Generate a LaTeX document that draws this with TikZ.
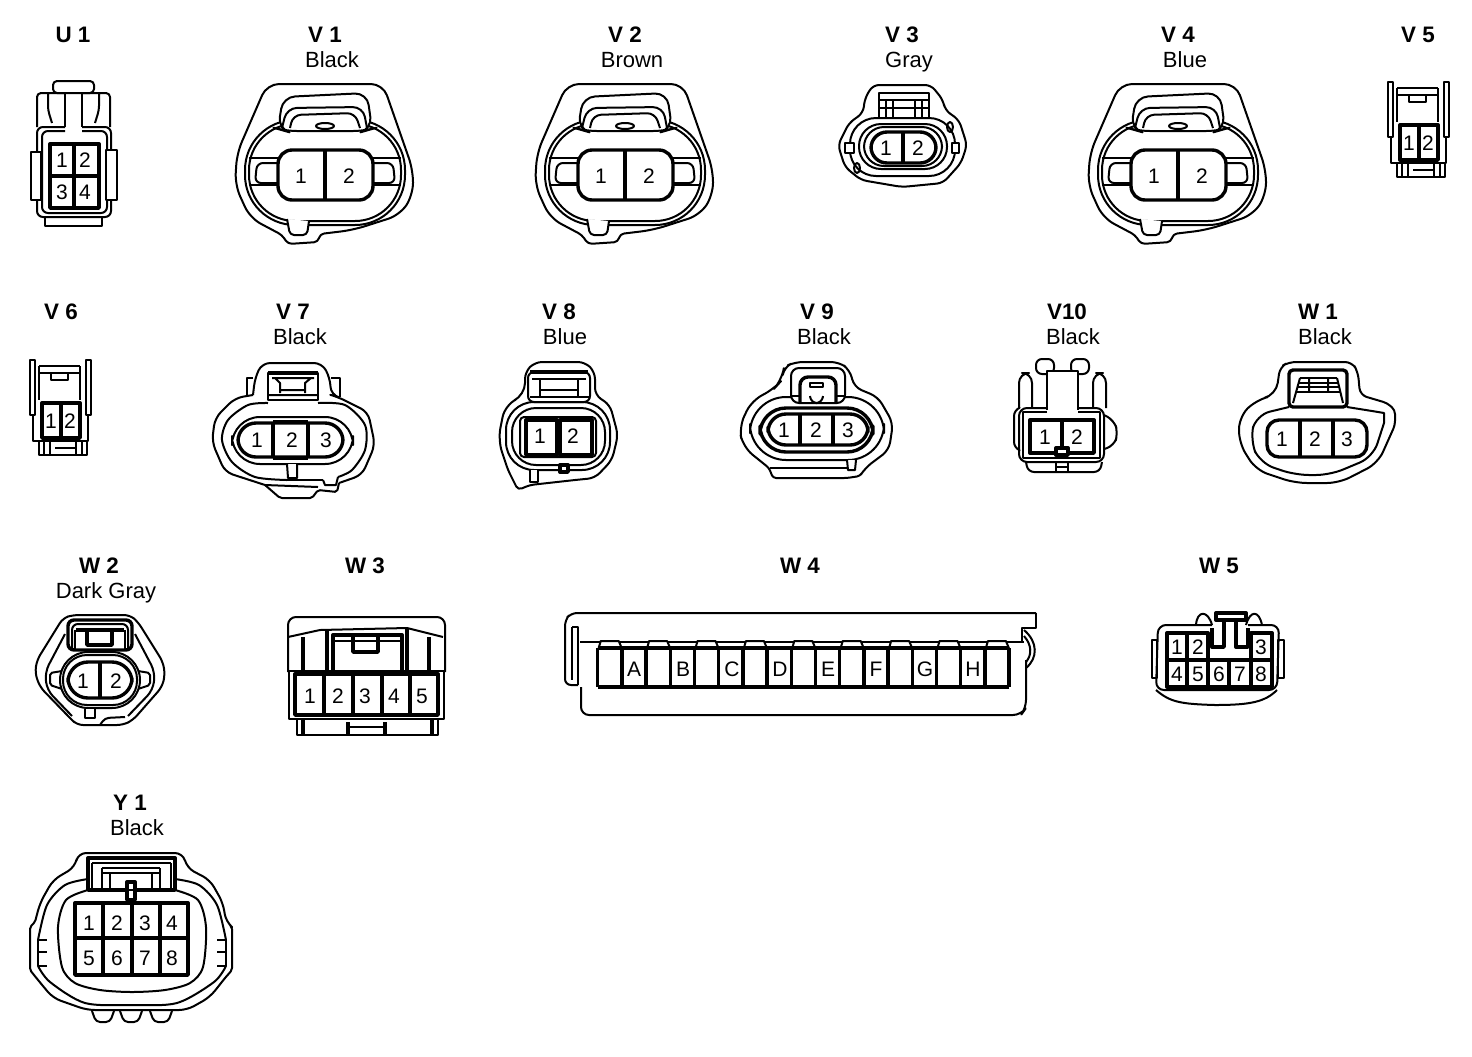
\documentclass[tikz,border=0pt]{standalone}
\usepackage{fontspec}
\setmainfont{Liberation Sans}
\usetikzlibrary{positioning}

\tikzset{
    wire/.style={draw=black, line width=1pt, line join=round},
    heavy/.style={draw=black, line width=1.7pt, line join=round},
    masked/.style={fill=white},
    title/.style={font=\bfseries\fontsize{11.2}{13}\selectfont, inner sep=0pt},
    shade/.style={font=\fontsize{11}{12}\selectfont, inner sep=0pt, anchor=base, yshift=-4pt},
    pinno/.style={font=\fontsize{10.5}{12}\selectfont, inner sep=0pt},
    % Large oval plug, used three times
    bigplug/.pic={
        \draw[wire, rounded corners=6pt] (-58,-91) -- (58,-91) -- (88,-5) -- (88,20) -- (75,40) -- (28,55) [rounded corners=2pt] -- (-5,59) -- (-7,67) -- (-37,69) -- (-43,60) [rounded corners=6pt] -- (-75,43) -- (-90,10) -- (-88,-22) -- cycle;
        \draw[wire, rounded corners=25pt] (-80,-55) rectangle (80,50);
        \draw[wire, rounded corners=23pt] (-76,-51) rectangle (76,46);
        \draw[wire, masked, rounded corners=2pt] (-38,44) -- (-35,60) -- (-18,60) -- (-16,46);
        \draw[wire, masked, rounded corners=6pt] (-47,-46) -- (-42,-78) -- (42,-82) -- (47,-46) -- (40,-44) -- (-40,-44) -- cycle;
        \draw[wire, rounded corners=5pt] (-43,-47) -- (-38,-67) -- (38,-68) -- (42,-47);
        \draw[wire, rounded corners=4pt] (-35,-47) -- (-32,-60) -- (30,-62) -- (35,-47);
        \draw[wire] (0,-49) ellipse [x radius=9, y radius=3];
        \draw[wire] (-76,-17) -- (76,-17) (-76,10) -- (76,10);
        \draw[wire, rounded corners=3pt] (-47,-12) -- (-68,-12) -- (-70,8) -- (-47,8) (48,-12) -- (68,-12) -- (70,8) -- (48,8);
        \draw[heavy, masked, rounded corners=7pt] (-47,-25) rectangle (48,25);
        \draw[heavy] (0,-25) -- (0,25);
        \node[pinno] (p1) at (-24,1) {1};
        \node[pinno] (p2) at (24,1) {2};
    },
    % Narrow two-way plug, used twice
    slimplug/.pic={
        \draw[wire] (0,0) rectangle (5,55);
        \draw[wire] (56,0) rectangle (61,55);
        \draw[wire] (9,6) -- (50,6) (9,13) -- (50,13);
        \draw[wire] (9,6) -- (9,40) (50,6) -- (50,40);
        \draw[wire] (21,13) -- (21,20) -- (38,20) -- (38,13);
        \draw[wire] (3,55) -- (3,81) -- (58,81) -- (58,55);
        \draw[heavy, masked] (12,43) rectangle (50,78);
        \draw[heavy] (31,43) -- (31,78);
        \draw[wire] (9,81) rectangle (57,95);
        \draw[wire] (14,81) -- (14,95) (20,81) -- (20,95) (25,88) -- (46,88) (46,81) -- (46,95) (52,81) -- (52,95);
        \node[pinno] (p1) at (21,61) {1};
        \node[pinno] (p2) at (40,61) {2};
    }
}

\begin{document}
\begin{tikzpicture}[x=0.5pt, y=-0.5pt]
    \useasboundingbox (0,0) rectangle (1472,1056);

    % --- Row 1 ---
    \node[title] (u1) at (73,35) {U 1};
    \draw[wire, rounded corners=2pt] (53,81) rectangle (94,93);
    \draw[wire] (65,93) -- (65,127) (82,93) -- (82,127);
    \draw[wire, rounded corners=2pt] (37,127) -- (37,93) -- (65,93) (48,93) -- (48,110) -- (52,123) (82,93) -- (110,93) -- (110,127) (99,93) -- (99,110) -- (95,123);
    \draw[wire, rounded corners=3pt] (65,127) -- (37,127) -- (37,217) -- (111,217) -- (111,127) -- (82,127);
    \draw[wire, rounded corners=3pt] (65,131) -- (42,131) -- (42,213) -- (107,213) -- (107,131) -- (82,131);
    \draw[heavy] (50,144) rectangle (99,208) (74,144) -- (74,208) (50,176) -- (99,176);
    \draw[wire, masked] (31,152) rectangle (41,200);
    \draw[wire, masked] (106,150) rectangle (117,200);
    \draw[wire] (45,217) rectangle (102,226);
    \foreach \n/\x/\y in {1/62/160, 2/85/160, 3/62/192, 4/85/192}
        \node[pinno] (u1p\n) at (\x,\y) {\n};

    \node[title] (v1) at (325,35) {V 1};
    \node[shade] (v1c) at (332,59) {Black};
    \pic (v1) at (325,175) {bigplug};

    \node[title] (v2) at (625,35) {V 2};
    \node[shade] (v2c) at (632,59) {Brown};
    \pic (v2) at (625,175) {bigplug};

    \node[title] (v3) at (902,35) {V 3};
    \node[shade] (v3c) at (909,59) {Gray};
    \draw[wire, rounded corners=3pt] (865,98) -- (873,85) -- (931,85) -- (943,100) -- (945,110) -- (959,120) -- (967,145) -- (961,163) -- (943,183) -- (902,187) -- (861,180) -- (845,167) -- (838,145) -- (849,123) -- (863,113) -- cycle;
    \draw[wire, masked] (879,93) rectangle (929,118);
    \draw[wire] (879,100) -- (929,100) (879,108) -- (929,108);
    \foreach \x in {886,893,915,922}
        \draw[wire] (\x,100) -- (\x,118);
    \draw[wire, masked, rounded corners=13pt] (850,118) rectangle (955,176);
    \draw[wire, rounded corners=11pt] (859,124) rectangle (947,169);
    \draw[wire, rounded corners=10pt] (864,127) rectangle (942,166);
    \draw[heavy, masked, rounded corners=8pt] (871,132) rectangle (936,163);
    \draw[heavy] (903,132) -- (903,163);
    \draw[wire, masked] (845,143) rectangle (854,153) (952,143) rectangle (959,153);
    \draw[wire] (950,127) ellipse [x radius=3, y radius=5] (857,168) ellipse [x radius=3, y radius=5];
    \node[pinno] (v3p1) at (886,148) {1};
    \node[pinno] (v3p2) at (918,148) {2};

    \node[title] (v4) at (1178,35) {V 4};
    \node[shade] (v4c) at (1185,59) {Blue};
    \pic (v4) at (1178,175) {bigplug};

    \node[title] (v5) at (1418,35) {V 5};
    \pic (v5) at (1388,82) {slimplug};

    % --- Row 2 ---
    \node[title] (v6) at (61,312) {V 6};
    \pic (v6) at (30,360) {slimplug};

    \node[title] (v7) at (293,312) {V 7};
    \node[shade] (v7c) at (300,336) {Black};
    \draw[wire, rounded corners=4pt] (253,395) -- (255,378) -- (262,363) -- (322,363) -- (330,378) -- (331,395) -- (338,397) -- (368,412) -- (375,445) -- (362,475) -- (339,483);
    \draw[wire, rounded corners=1pt] (339,483) -- (337,492) -- (318,490) -- (312,498) -- (280,498) -- (265,485);
    \draw[wire, rounded corners=4pt] (265,485) -- (225,472) -- (212,442) -- (215,418) -- (235,398) -- (253,395);
    \draw[wire] (265,485) -- (318,487);
    \draw[wire] (253,378) -- (247,378) -- (247,397) (331,378) -- (340,378) -- (340,397);
    \draw[wire] plot[smooth] coordinates {(268,403) (248,405) (228,420) (222,440) (232,462) (255,477) (287,480)};
    \draw[wire] (287,480) -- (323,480);
    \draw[wire] plot[smooth] coordinates {(338,477) (352,470) (365,450) (365,425) (345,405) (318,403)};
    \draw[wire, masked] (268,373) rectangle (318,400);
    \draw[heavy] (268,373) -- (318,373);
    \draw[wire] (272,378) -- (314,378) (275,378) -- (280,383) -- (280,393) (311,378) -- (305,383) -- (305,393) (280,390) -- (305,390) (268,395) -- (318,395);
    \draw[wire, rounded corners=14pt] (232,417) rectangle (353,464);
    \draw[heavy, masked, rounded corners=9pt] (238,423) rectangle (343,457);
    \draw[heavy] (273,422) -- (308,422) (273,458) -- (308,458) (273,422) -- (273,458) (308,422) -- (308,458);
    \draw[wire, masked] (287,464) -- (288,478) -- (297,478) -- (297,464);
    \draw[wire] (323,480) -- (325,485) -- (336,485) -- (338,477);
    \foreach \n/\x in {1/257, 2/292, 3/326}
        \node[pinno] (v7p\n) at (\x,440) {\n};

    \node[title] (v8) at (559,312) {V 8};
    \node[shade] (v8c) at (565,336) {Blue};
    \draw[wire, rounded corners=3.5pt] (525,395) -- (525,372) -- (535,362) -- (585,362) -- (595,372) -- (595,395) -- (610,405) -- (618,435) -- (612,460) -- (595,478) [rounded corners=2pt] -- (575,480) -- (530,485) -- (518,490) -- (508,470) [rounded corners=6pt] -- (498,440) -- (505,405) -- cycle;
    \draw[wire, masked, rounded corners=14pt] (506,402) rectangle (610,470);
    \draw[wire, masked, rounded corners=3pt] (528,372) rectangle (590,402);
    \draw[heavy] (530,372) -- (588,372);
    \draw[wire] (532,379) -- (586,379) (540,379) -- (540,397) (578,379) -- (578,397) (540,390) -- (578,390) (530,397) -- (590,397);
    \draw[wire, rounded corners=12pt] (512,408) rectangle (605,465);
    \draw[wire, rounded corners=2pt] (520,417) rectangle (596,457);
    \draw[heavy, masked] (526,420) rectangle (557,455);
    \draw[heavy, masked] (560,420) rectangle (592,455);
    \draw[wire, masked] (530,470) -- (530,482) -- (538,482) -- (538,470);
    \draw[heavy, masked] (560,465) rectangle (568,472);
    \node[pinno] (v8p1) at (540,436) {1};
    \node[pinno] (v8p2) at (573,436) {2};

    \node[title] (v9) at (817,312) {V 9};
    \node[shade] (v9c) at (824,336) {Black};
    \draw[wire, rounded corners=4pt] (782,380) -- (784,367) -- (795,362) -- (839,362) -- (850,370) -- (854,387) -- (878,397) -- (893,423) -- (889,450) -- (865,468) [rounded corners=1.5pt] -- (860,476) -- (847,478) -- (773,478) -- (769,468) [rounded corners=6pt] -- (743,447) -- (739,427) -- (752,400) -- (773,390) -- cycle;
    \draw[wire, masked, rounded corners=18pt] (750,397) rectangle (884,460);
    \draw[wire] (770,468) -- (847,468);
    \draw[wire, masked, rounded corners=4pt] (791,403) -- (791,368) -- (845,368) -- (845,403) -- cycle;
    \draw[heavy, rounded corners=4pt] (800,403) -- (800,377) -- (836,377) -- (836,403);
    \draw[wire] (791,396) -- (800,396) (836,396) -- (845,396) (810,383) rectangle (823,387);
    \draw[wire, rounded corners=3pt] (810,396) -- (811,403) -- (822,403) -- (823,396);
    \draw[heavy, rounded corners=13pt] (760,408) rectangle (873,452);
    \draw[heavy, masked, rounded corners=9pt] (768,414) rectangle (868,445);
    \draw[heavy] (800,414) -- (800,445) (833,414) -- (833,445);
    \draw[wire, masked] (847,460) -- (848,470) -- (855,470) -- (856,460);
    \foreach \n/\x in {1/784, 2/816, 3/848}
        \node[pinno] (v9p\n) at (\x,430) {\n};

    \node[title] (v10) at (1067,312) {V10};
    \node[shade] (v10c) at (1073,336) {Black};
    \draw[wire, rounded corners=3pt] (1036,359) rectangle (1054,374);
    \draw[wire, rounded corners=3pt] (1071,359) rectangle (1089,374);
    \draw[wire, masked] (1047,410) -- (1047,371) -- (1078,371) -- (1078,410);
    \draw[wire, rounded corners=5pt] (1019,408) -- (1019,373) -- (1032,373) -- (1032,408);
    \draw[wire, rounded corners=5pt] (1093,408) -- (1093,373) -- (1106,373) -- (1106,408);
    \draw[wire, rounded corners=4pt] (1047,408) -- (1019,408) -- (1019,462) -- (1104,462) -- (1104,408) -- (1078,408);
    \draw[wire] (1047,412) -- (1023,412) -- (1023,458) -- (1100,458) -- (1100,412) -- (1078,412);
    \draw[wire, rounded corners=3pt] (1019,408) -- (1014,410) -- (1014,448) -- (1019,450);
    \draw[wire, rounded corners=4pt] (1104,415) -- (1114,420) -- (1118,433) -- (1114,446) -- (1104,449);
    \draw[heavy] (1030,420) rectangle (1094,453) (1062,420) -- (1062,453);
    \draw[heavy, masked] (1056,448) rectangle (1068,455);
    \draw[wire, rounded corners=3pt] (1026,462) -- (1028,472) -- (1100,472) -- (1102,462);
    \draw[wire] (1056,462) -- (1056,472) (1068,462) -- (1068,472) (1056,467) -- (1068,467);
    \node[pinno] (v10p1) at (1045,437) {1};
    \node[pinno] (v10p2) at (1077,437) {2};

    \node[title] (w1) at (1318,312) {W 1};
    \node[shade] (w1c) at (1325,336) {Black};
    \draw[wire, rounded corners=3.5pt] (1276,395) -- (1280,367) -- (1289,362) -- (1352,362) -- (1358,372) -- (1360,395) [rounded corners=2pt] -- (1387,403) -- (1395,410) -- (1395,425) [rounded corners=6pt] -- (1378,463) -- (1339,483) -- (1295,483) -- (1256,470) -- (1239,443) -- (1239,417) -- (1256,400) -- cycle;
    \draw[wire, rounded corners=7pt] (1289,407) -- (1256,415) -- (1250,440) -- (1260,463) -- (1295,475) -- (1330,475) -- (1373,457) -- (1384,423);
    \draw[wire] (1384,423) -- (1384,413) -- (1372,411) (1347,407) -- (1372,411);
    \draw[heavy, rounded corners=2pt] (1289,407) -- (1289,370) -- (1347,370) -- (1347,407) -- cycle;
    \draw[wire] (1300,378) -- (1337,378) (1298,383) -- (1339,383) (1298,387) -- (1339,387) (1296,392) -- (1341,392);
    \draw[wire] (1300,378) -- (1293,403) (1337,378) -- (1343,403) (1309,378) -- (1309,392) (1328,378) -- (1328,392);
    \draw[heavy, masked, rounded corners=6pt] (1267,420) rectangle (1367,457);
    \draw[heavy] (1300,420) -- (1300,457) (1333,420) -- (1333,457);
    \foreach \n/\x in {1/1282, 2/1315, 3/1347}
        \node[pinno] (w1p\n) at (\x,439) {\n};

    % --- Row 3 ---
    \node[title] (w2) at (99,566) {W 2};
    \node[shade] (w2c) at (106,590) {Dark Gray};
    \draw[wire, rounded corners=3pt] (63,618) -- (73,615) -- (130,615) -- (138,622) -- (163,662) -- (165,675) -- (162,687) -- (133,720) -- (123,725) -- (77,725) -- (70,718) -- (40,687) -- (35,673) -- (37,660) -- cycle;
    \draw[wire, rounded corners=4pt] (65,634) -- (45,672) -- (47,690) -- (72,716) (135,634) -- (155,672) -- (153,690) -- (128,716);
    \draw[heavy, masked, rounded corners=3pt] (68,650) -- (68,620) -- (132,620) -- (132,650) -- cycle;
    \draw[wire, rounded corners=3pt] (72,650) -- (72,624) -- (128,624) -- (128,650);
    \draw[heavy] (76,630) -- (124,630) (87,630) -- (87,645) -- (112,645) -- (112,630);
    \draw[wire] (75,630) -- (75,650) (125,630) -- (125,650);
    \draw[wire, rounded corners=1pt] (68,670) -- (50,673) -- (50,685) -- (65,690) (132,670) -- (150,673) -- (150,685) -- (135,690);
    \draw[wire, masked, rounded corners=14pt] (60,652) rectangle (140,708);
    \draw[wire, rounded corners=12pt] (63,655) rectangle (137,705);
    \draw[heavy, masked, rounded corners=10pt] (68,662) rectangle (132,698);
    \draw[heavy] (100,662) -- (100,698);
    \draw[wire, masked] (85,709) -- (85,718) -- (95,718) -- (95,709);
    \draw[wire, rounded corners=2pt] (100,725) -- (105,718) -- (125,717);
    \node[pinno] (w2p1) at (83,681) {1};
    \node[pinno] (w2p2) at (116,681) {2};

    \node[title] (w3) at (365,566) {W 3};
    \draw[wire, rounded corners=4pt] (288,672) -- (288,617) -- (445,617) -- (445,672);
    \draw[wire] (288,637) -- (320,630) -- (407,628) -- (443,637);
    \draw[heavy] (303,637) -- (303,670) (429,637) -- (429,670) (327,630) -- (327,672) (407,628) -- (407,672);
    \draw[heavy] (333,672) -- (333,635) -- (402,635) -- (402,672);
    \draw[wire] (333,641) -- (402,641);
    \draw[heavy] (353,637) -- (353,652) -- (378,652) -- (378,637);
    \draw[wire] (289,671) rectangle (444,719);
    \draw[heavy] (295,674) rectangle (438,715);
    \foreach \x in {324,353,382,410}
        \draw[heavy] (\x,674) -- (\x,715);
    \draw[wire] (297,719) -- (297,735) -- (438,735) -- (438,719);
    \draw[heavy] (303,719) -- (303,735) (432,719) -- (432,735) (348,722) -- (348,735) (385,722) -- (385,735);
    \draw[wire] (348,727) -- (385,727);
    \foreach \n/\x in {1/310, 2/338, 3/365, 4/394, 5/422}
        \node[pinno] (w3p\n) at (\x,696) {\n};

    \node[title] (w4) at (800,566) {W 4};
    \draw[wire, rounded corners=3pt] (578,685) -- (565,685) -- (565,620) -- (571,613) -- (1036,613);
    \draw[wire] (1036,613) -- (1036,628) -- (1022,628) -- (1022,642);
    \draw[wire] (572,627) -- (578,627) -- (578,685) (572,627) -- (572,680);
    \draw[wire, rounded corners=4pt] (581,687) -- (581,715) -- (1021,715) -- (1026,708) -- (1026,660);
    \draw[wire] (580,642) -- (1024,642);
    \draw[wire] (1024,630) .. controls (1038,642) and (1038,658) .. (1026,668);
    \draw[wire] (1024,636) .. controls (1032,645) and (1032,655) .. (1026,662);
    \foreach \k in {0,2,...,16} {
        \draw[wire, masked] ({597.7+\k*24.2+1},648) -- ({597.7+\k*24.2+3},641) -- ({597.7+\k*24.2+21},641) -- ({597.7+\k*24.2+24},648);
        \draw[heavy] ({597.7+\k*24.2},648) -- ({597.7+\k*24.2},687) ({597.7+\k*24.2+24.2},648) -- ({597.7+\k*24.2+24.2},687);
    }
    \draw[heavy] (597.7,648) -- (1009,648) (597.7,687) -- (1009,687);
    \foreach \n/\x in {A/634, B/683, C/732, D/780, E/828, F/876, G/925, H/973}
        \node[pinno] (w4p\n) at (\x,669) {\n};

    \node[title] (w5) at (1219,566) {W 5};
    \draw[wire] (1196,625) .. controls (1197,610) and (1208,610) .. (1212,625);
    \draw[wire] (1246,625) .. controls (1250,610) and (1259,610) .. (1262,625);
    \draw[wire, rounded corners=4pt] (1212,625) -- (1158,625) -- (1156,690) -- (1277,690) -- (1279,625) -- (1248,625);
    \draw[wire] (1156,690) .. controls (1170,702) and (1180,704) .. (1215,705) .. controls (1250,705) and (1265,702) .. (1277,690);
    \draw[heavy, masked] (1216,613) rectangle (1246,620);
    \draw[heavy] (1224,620) -- (1224,647) -- (1212,647) -- (1212,628) (1236,620) -- (1236,647) -- (1248,647) -- (1248,628);
    \draw[wire] (1152,640) rectangle (1157,678) (1278,640) rectangle (1284,678);
    \draw[heavy] (1167,633) -- (1208,633) -- (1208,660) -- (1251,660) -- (1251,633) -- (1272,633) -- (1272,687) -- (1167,687) -- cycle;
    \draw[heavy] (1167,660) -- (1208,660) (1251,660) -- (1272,660);
    \draw[heavy] (1187,633) -- (1187,687) (1208,660) -- (1208,687) (1229,660) -- (1229,687) (1251,660) -- (1251,687);
    \foreach \n/\x/\y in {1/1177/647, 2/1198/647, 3/1261/647, 4/1177/674, 5/1198/674, 6/1219/674, 7/1240/674, 8/1261/674}
        \node[pinno] (w5p\n) at (\x,\y) {\n};

    % --- Row 4 ---
    \node[title] (y1) at (130,803) {Y 1};
    \node[shade] (y1c) at (137,827) {Black};
    \draw[wire, rounded corners=4pt] (75,867) -- (78,853) -- (183,853) -- (187,868) -- (210,880) -- (223,903) -- (226,922) [rounded corners=1pt] -- (232,927) -- (232,970) -- (225,978) [rounded corners=4pt] -- (210,997) -- (187,1010) -- (87,1010) -- (53,998) -- (38,980) [rounded corners=1pt] -- (30,970) -- (30,927) -- (35,922) [rounded corners=4pt] -- (40,903) -- (53,880) -- cycle;
    % side locks
    \draw[wire] plot[smooth] coordinates {(88,879) (65,885) (47,905) (38,940)};
    \draw[wire] (38,940) -- (47,940) (38,940) -- (38,966) -- (47,966) (38,952) -- (47,952);
    \draw[wire] plot[smooth] coordinates {(38,966) (50,982) (85,1003) (132,1005) (177,1003) (214,982) (226,966)};
    \draw[wire] (217,940) -- (226,940) -- (226,966) -- (217,966) (226,952) -- (217,952);
    \draw[wire] plot[smooth] coordinates {(226,940) (217,905) (199,885) (175,879)};
    \draw[wire] plot[smooth] coordinates {(88,890) (66,900) (58,927) (62,967) (75,983) (100,990) (132,992) (165,990) (190,983) (203,967) (206,927) (198,900) (175,890)};
    \draw[heavy, masked] (88,890) -- (88,858) -- (175,858) -- (175,890) -- cycle;
    \draw[wire] (92,863) -- (171,863) (102,868) -- (160,868) (102,868) -- (102,890) (160,868) -- (160,890) (92,863) -- (92,890) (171,863) -- (171,890);
    \draw[wire] (102,873) -- (160,873) (110,873) -- (110,890) (152,873) -- (152,890);
    \draw[heavy, masked] (127,882) rectangle (135,900);
    \draw[wire] (127,890) -- (135,890);
    \draw[heavy] (75,903) rectangle (188,975) (103,903) -- (103,975) (132,903) -- (132,975) (160,903) -- (160,975) (75,938) -- (188,938);
    \foreach \x in {92,120,150}
        \draw[wire, rounded corners=2pt] (\x,1011) -- ({\x+4},1022) -- ({\x+18},1022) -- ({\x+22},1011);
    \foreach \n/\x/\y in {1/89/923, 2/117/923, 3/145/923, 4/172/923, 5/89/958, 6/117/958, 7/145/958, 8/172/958}
        \node[pinno] (y1p\n) at (\x,\y) {\n};

\end{tikzpicture}
\end{document}
